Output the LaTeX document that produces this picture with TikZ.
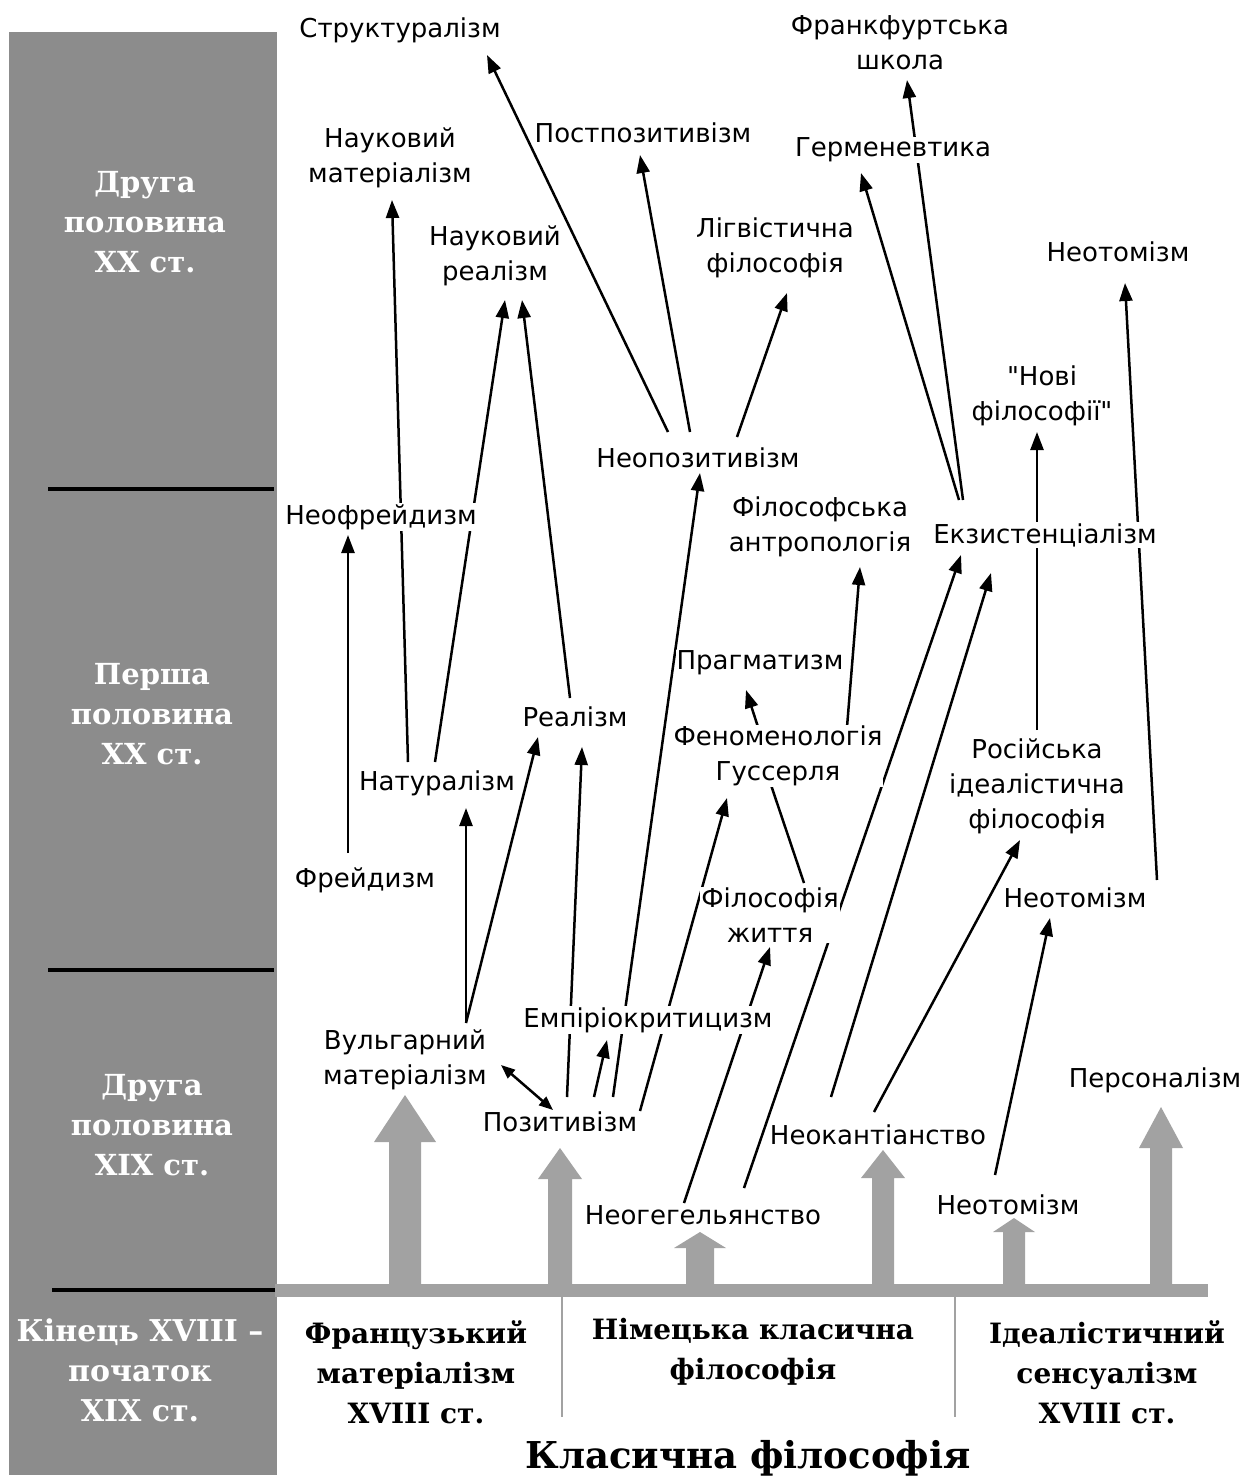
\documentclass[tikz,border=0pt]{standalone}
\usepackage{fontspec}
\setmainfont{DejaVu Sans}[Ligatures=TeXOff]
\newfontfamily\bserif{DejaVu Serif}
\usetikzlibrary{arrows.meta,calc,backgrounds}
\pgfdeclarelayer{paper}
\pgfsetlayers{paper,background,main}
\definecolor{sidegray}{RGB}{140,140,140}
\definecolor{arrgray}{RGB}{162,162,162}
\newcommand\blkarrow[5]{\fill[arrgray] ({#1-#2},1290) -- ({#1-#2},#5) -- ({#1-#3},#5) -- (#1,#4) -- ({#1+#3},#5) -- ({#1+#2},#5) -- ({#1+#2},1290) -- cycle;}
\begin{document}
\begin{tikzpicture}[x=1pt,y=-1pt,
  lbl/.style={font=\fontsize{26}{35}\selectfont, align=center, fill=white, inner sep=1pt},
  side/.style={font=\bserif\bfseries\fontsize{29}{40}\selectfont, text=white, align=center},
  base/.style={font=\bserif\bfseries\fontsize{28}{40}\selectfont, align=center},
  conn/.style={line width=2.5pt, -{Triangle[length=18pt,width=13pt]}},
  both/.style={line width=2.5pt, {Triangle[length=14pt,width=11pt]}-{Triangle[length=14pt,width=11pt]}},
  plain/.style={line width=2.5pt},
  sep/.style={line width=4pt, black}]
\useasboundingbox (0,0) rectangle (1250,1483);
\begin{pgfonlayer}{paper}
\fill[white] (0,0) rectangle (1250,1483);
\end{pgfonlayer}
% sidebar
\fill[sidegray] (9,32) rectangle (277,1475);
\draw[sep] (48,489) -- (274,489);
\draw[sep] (48,970) -- (274,970);
\draw[sep] (52,1290) -- (277,1290);
\node[side] (s1) at (145,222) {Друга\\половина\\XX ст.};
\node[side] (s2) at (152,714) {Перша\\половина\\XX ст.};
\node[side] (s3) at (152,1125) {Друга\\половина\\XIX ст.};
\node[side, font=\bserif\bfseries\fontsize{30}{40}\selectfont] (s4) at (140,1370) {Кінець XVIII –\\початок\\XIX ст.};
% base bar and block arrows
\fill[arrgray] (275,1284) rectangle (1208,1297);
\draw[line width=1.5pt, arrgray] (562,1297) -- (562,1417);
\draw[line width=1.5pt, arrgray] (955,1297) -- (955,1417);
\blkarrow{405}{16}{31}{1095}{1142}
\blkarrow{560}{12}{22}{1148}{1179}
\blkarrow{700}{14}{26}{1232}{1248}
\blkarrow{883}{11}{22}{1150}{1178}
\blkarrow{1014}{11}{21}{1218}{1232}
\blkarrow{1161}{11}{22}{1107}{1148}
\node[base] (fr) at (416,1372) {Французький\\матеріалізм\\XVIII ст.};
\node[base] (de) at (753,1352) {Німецька класична\\філософія};
\node[base] (id) at (1107,1372) {Ідеалістичний\\сенсуалізм\\XVIII ст.};
\node[base, font=\bserif\bfseries\fontsize{37}{40}\selectfont] (klas) at (748,1458) {Класична філософія};
% labels
\node[lbl] (struct) at (400,30) {Структуралізм};
\node[lbl] (frank) at (900,43) {Франкфуртська\\школа};
\node[lbl] (naumat) at (390,158) {Науковий\\матеріалізм};
\node[lbl] (postpoz) at (643,133) {Постпозитивізм};
\node[lbl] (germ) at (893,150) {Герменевтика};
\node[lbl] (naureal) at (495,256) {Науковий\\реалізм};
\node[lbl] (ling) at (775,248) {Лігвістична\\філософія};
\node[lbl] (neotomT) at (1118,252) {Неотомізм};
\node[lbl] (novi) at (1042,396) {"Нові\\філософії"};
\node[lbl] (neopoz) at (698,458) {Неопозитивізм};
\node[lbl] (neofreud) at (381,517) {Неофрейдизм};
\node[lbl] (antrop) at (820,527) {Філософська\\антропологія};
\node[lbl] (exist) at (1045,535) {Екзистенціалізм};
\node[lbl] (pragm) at (760,663) {Прагматизм};
\node[lbl] (realizm) at (575,717) {Реалізм};
\node[lbl] (fenom) at (778,756) {Феноменологія\\Гуссерля};
\node[lbl] (ros) at (1037,786) {Російська\\ідеалістична\\філософія};
\node[lbl] (natur) at (437,783) {Натуралізм};
\node[lbl] (freud) at (365,880) {Фрейдизм};
\node[lbl] (zhyt) at (770,915) {Філософія\\життя};
\node[lbl] (neotomM) at (1075,898) {Неотомізм};
\node[lbl] (empir) at (648,1020) {Емпіріокритицизм};
\node[lbl] (vulg) at (405,1060) {Вульгарний\\матеріалізм};
\node[lbl] (poz) at (560,1122) {Позитивізм};
\node[lbl] (person) at (1155,1080) {Персоналізм};
\node[lbl] (neokant) at (878,1135) {Неокантіанство};
\node[lbl] (neogeg) at (703,1215) {Неогегельянство};
\node[lbl] (neotomB) at (1008,1205) {Неотомізм};
% connectors
\begin{scope}[on background layer]
\draw[conn] ($(neopoz)+(-30,-26)$) -- ($(struct)+(87,25)$);
\draw[conn] ($(neopoz)+(-8,-26)$) -- ($(postpoz)+(-3,22)$);
\draw[conn] ($(neopoz)+(39,-21)$) -- ($(ling)+(12,45)$);
\draw[conn] ($(natur)+(-29,-21)$) -- ($(naumat)+(2,42)$);
\draw[conn] ($(natur)+(-2,-21)$) -- ($(naureal)+(10,44)$);
\draw[conn] ($(realizm)+(-5,-19)$) -- ($(naureal)+(27,44)$);
\draw[conn] ($(freud)+(-17,-27)$) -- ($(neofreud)+(-33,18)$);
\draw[conn] ($(vulg)+(61,-37)$) -- ($(natur)+(29,25)$);
\draw[conn] ($(vulg)+(61,-37)$) -- ($(realizm)+(-37,20)$);
\draw[both] ($(vulg)+(96,5)$) -- ($(poz)+(-7,-12)$);
\draw[conn] ($(poz)+(7,-25)$) -- ($(realizm)+(7,30)$);
\draw[conn] ($(poz)+(34,-25)$) -- ($(empir)+(-41,20)$);
\draw[conn] ($(poz)+(53,-25)$) -- ($(neopoz)+(2,15)$);
\draw[conn] ($(poz)+(80,-11)$) -- ($(fenom)+(-51,42)$);
\draw[conn] ($(neogeg)+(-19,-12)$) -- ($(zhyt)+(0,32)$);
\draw[conn] ($(neogeg)+(41,-27)$) -- ($(exist)+(-84,20)$);
\draw[conn] ($(neokant)+(-47,-38)$) -- ($(exist)+(-54,38)$);
\draw[conn] ($(neokant)+(-4,-23)$) -- ($(ros)+(-17,54)$);
\draw[conn] ($(neotomB)+(-13,-30)$) -- ($(neotomM)+(-25,20)$);
\draw[conn] ($(neotomM)+(82,-18)$) -- ($(neotomT)+(7,31)$);
\draw[conn] ($(ros)+(0,-56)$) -- ($(novi)+(-5,36)$);
\draw[conn] ($(exist)+(-86,-35)$) -- ($(germ)+(-32,23)$);
\draw[conn] ($(exist)+(-82,-35)$) -- ($(frank)+(7,37)$);
\draw[conn] ($(fenom)+(-20,-29)$) -- ($(pragm)+(-14,27)$);
\draw[conn] ($(fenom)+(69,-29)$) -- ($(antrop)+(40,40)$);
\draw[plain] ($(fenom)+(-7,29)$) -- ($(zhyt)+(34,-32)$);
\end{scope}
\end{tikzpicture}
\end{document}
